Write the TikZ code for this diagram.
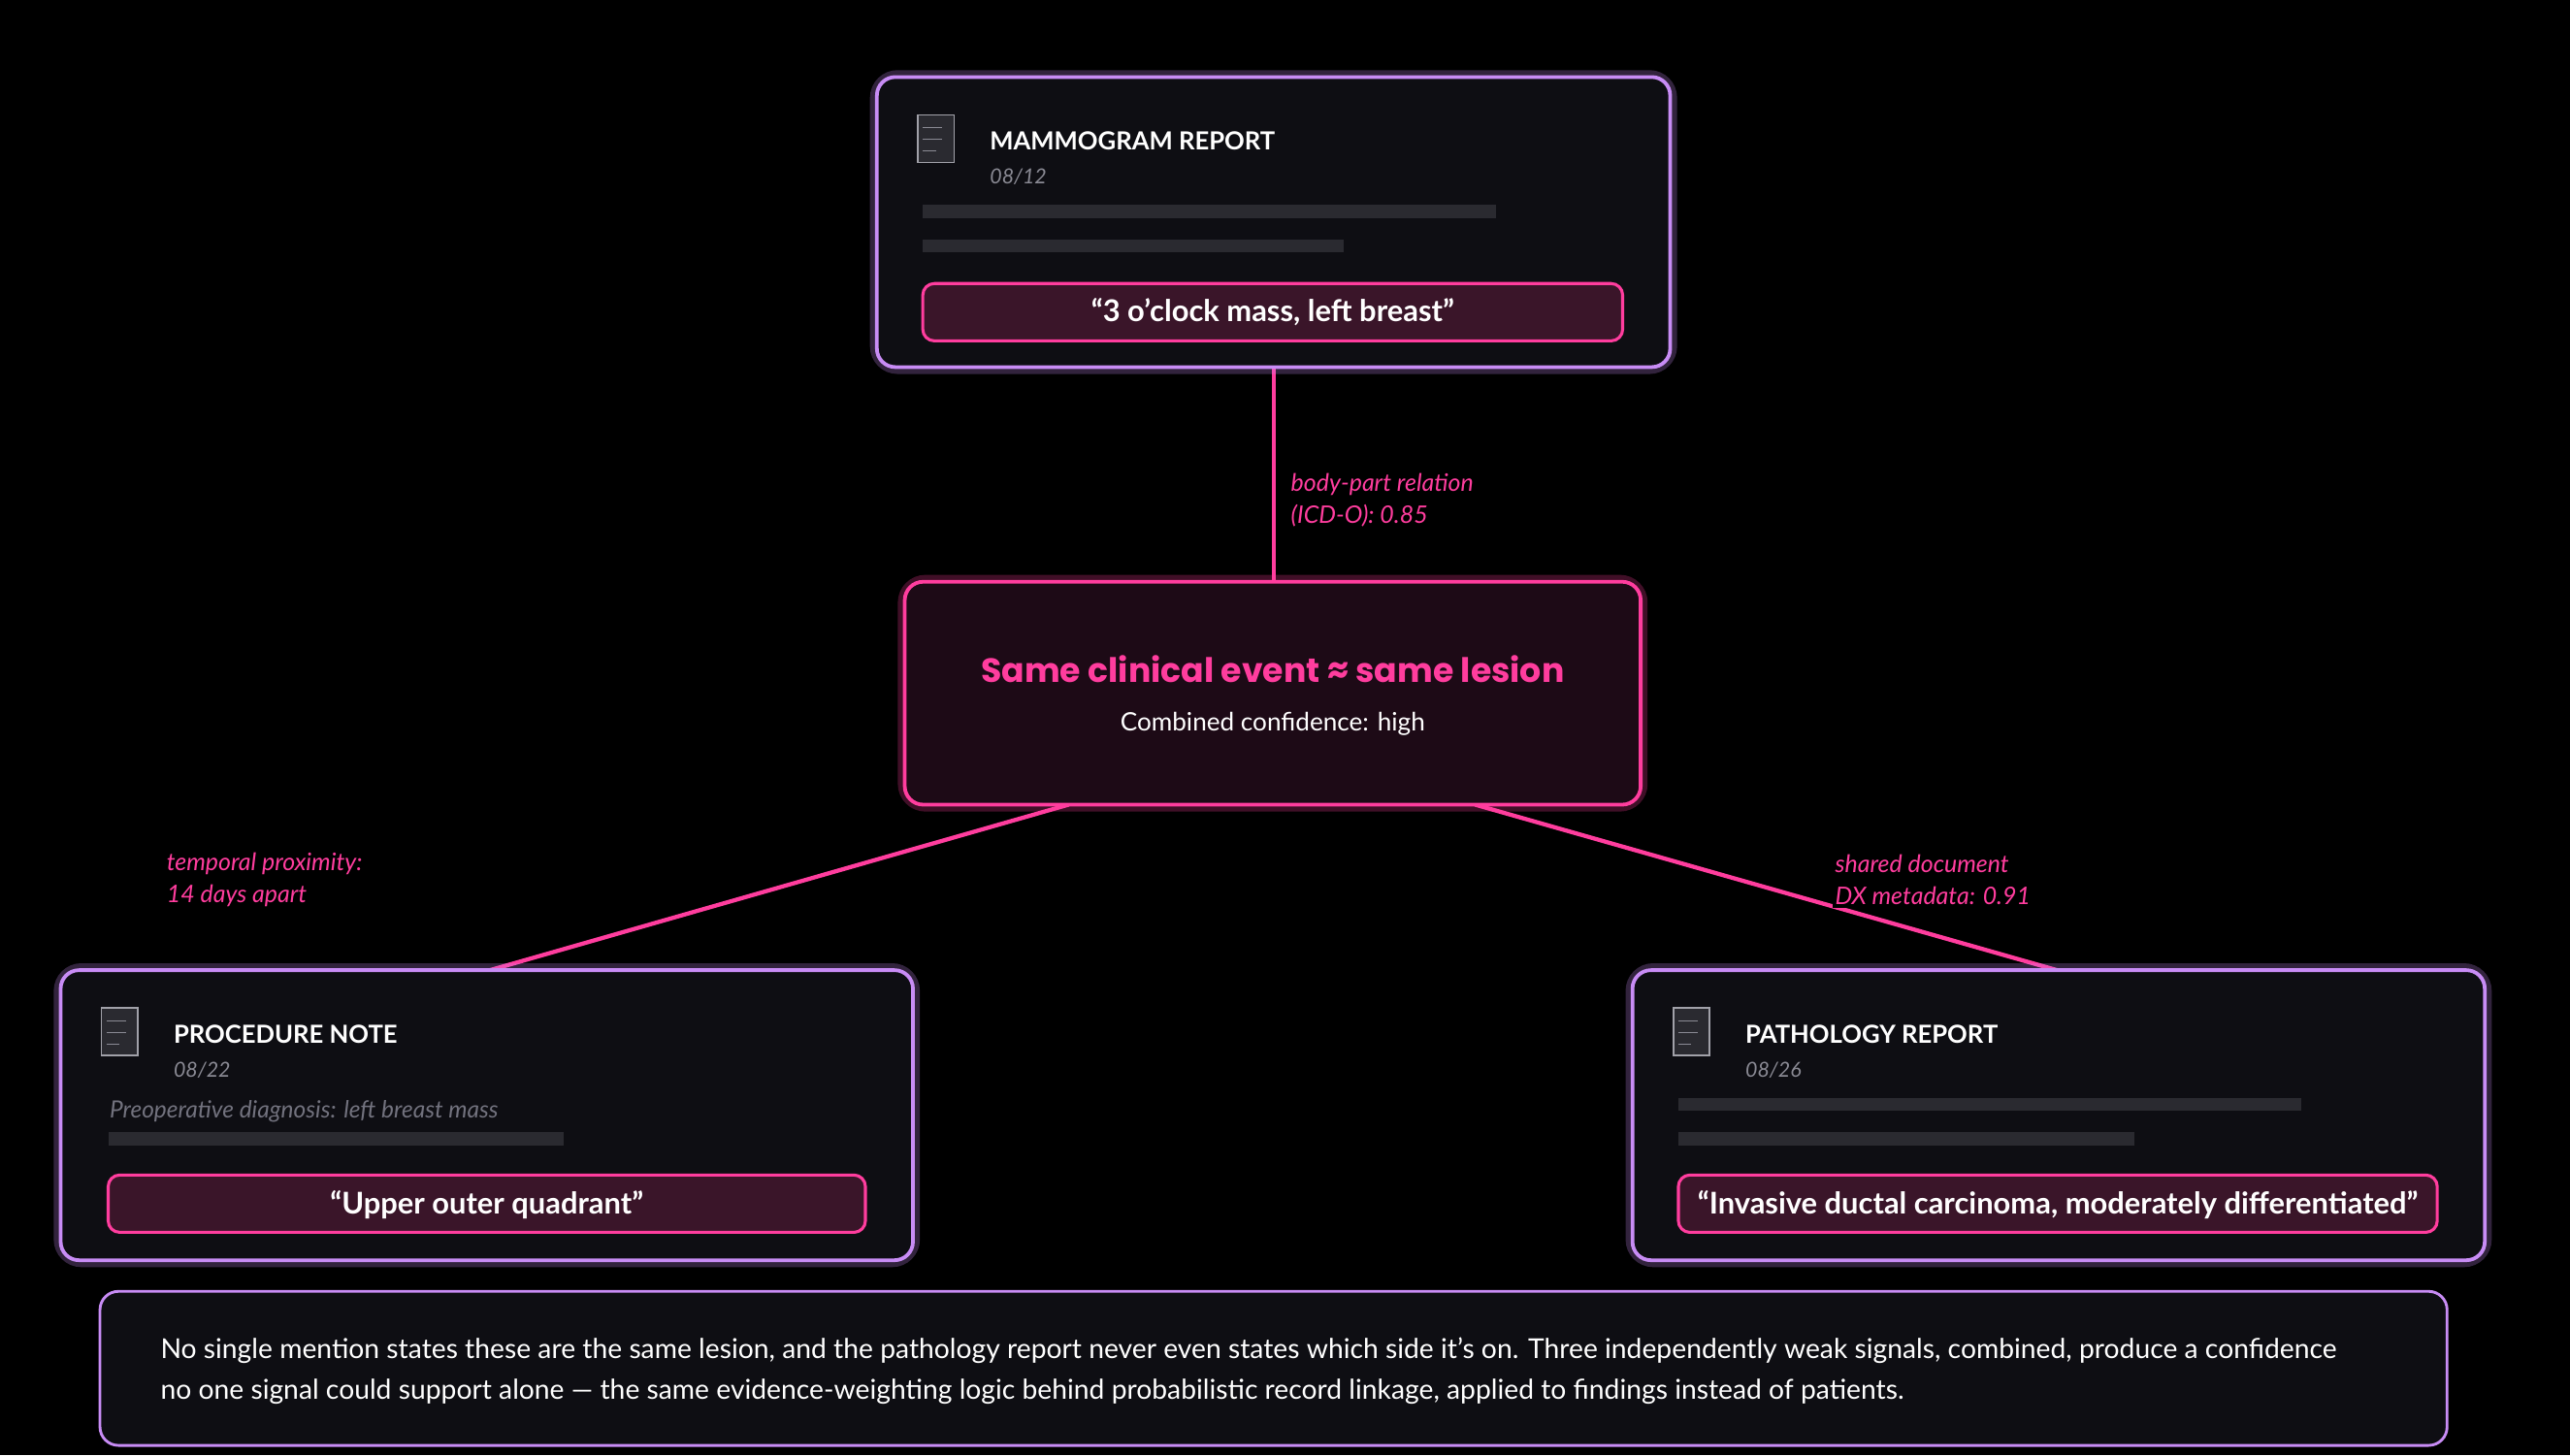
\documentclass[tikz,border=0pt]{standalone}
\usepackage{fontspec}
\setmainfont{Lato}
\newfontfamily\poppins{Poppins}
\usetikzlibrary{positioning,calc}
\definecolor{cardBg}{HTML}{0E0E13}
\definecolor{cardEdge}{HTML}{C88CF5}
\definecolor{hotPink}{HTML}{FF3D9E}
\definecolor{quoteBg}{HTML}{3A1529}
\definecolor{eventBg}{HTML}{1D0A16}
\definecolor{barGray}{HTML}{2A2A30}
\definecolor{dimText}{HTML}{8A8A94}
\tikzset{
    card/.style={draw=cardEdge, line width=1.6pt, fill=cardBg, rounded corners=8pt},
    glow/.style={draw=#1, opacity=0.25, line width=6pt, rounded corners=9pt},
    quote/.style={draw=hotPink, line width=1.3pt, fill=quoteBg, rounded corners=5pt},
    bar/.style={fill=barGray},
    docIcon/.style={draw=dimText!80, fill=barGray, line width=0.6pt},
    cardTitle/.style={anchor=west, text=white!78, font=\bfseries\fontsize{10.8}{13}\selectfont},
    cardDate/.style={anchor=west, text=dimText, font=\itshape\fontsize{9}{11}\selectfont},
    quoteText/.style={text=white, font=\bfseries\fontsize{13}{15}\selectfont},
    linkLabel/.style={anchor=west, align=left, text=hotPink, fill=black, inner sep=1pt,
        font=\itshape\fontsize{10.5}{14}\selectfont},
    link/.style={draw=hotPink, line width=1.8pt}
}
\newcommand{\docglyph}[1]{%
  \draw[docIcon] (#1) rectangle ++(22,29);
  \foreach \dy/\len in {8/12,15/12,22/8}
    \draw[dimText, line width=0.4pt] ($(#1)+(3,\dy)$) -- ++(\len,0);
}
\begin{document}
\begin{tikzpicture}[x=0.025cm, y=-0.025cm]
\fill[black] (0,0) rectangle (1568,888);
\useasboundingbox (0,0) rectangle (1568,888);

% connectors (behind the cards)
\coordinate (topDown) at (777,224);
\coordinate (eventUp) at (777,355);
\coordinate (eventLeft) at (652,491);
\coordinate (eventRight) at (900,491);
\coordinate (procUp) at (299,592);
\coordinate (pathUp) at (1255,592);
\draw[link] (topDown) -- (eventUp);
\draw[link] (eventLeft) -- (procUp);
\draw[link] (eventRight) -- (pathUp);

% mammogram report
\draw[glow=cardEdge] (535,47) rectangle (1019,224);
\draw[card] (535,47) rectangle (1019,224);
\coordinate (mamIcon) at (560,70);
\docglyph{mamIcon}
\node[cardTitle] (mamTitle) at (599,86) {MAMMOGRAM REPORT};
\node[cardDate] (mamDate) at (599,108) {08/12};
\fill[bar] (563,125) rectangle (913,133);
\fill[bar] (563,146) rectangle (820,154);
\draw[quote] (563,173) rectangle (990,208);
\node[quoteText] (mamQuote) at (776.5,190.5) {“3 o\char"27 clock mass, left breast”};

% central event
\draw[glow=hotPink] (552,355) rectangle (1001,491);
\draw[card, draw=hotPink, fill=eventBg] (552,355) rectangle (1001,491);
\node[text=hotPink, font=\poppins\bfseries\fontsize{14.6}{18}\selectfont] (eventTitle) at (776.5,408) {Same clinical event ≈ same lesion};
\node[text=white!88, font=\fontsize{11}{13}\selectfont] (eventConf) at (776.5,442) {Combined confidence: high};

% procedure note
\draw[glow=cardEdge] (37,592) rectangle (557,769);
\draw[card] (37,592) rectangle (557,769);
\coordinate (procIcon) at (62,615);
\docglyph{procIcon}
\node[cardTitle] (procTitle) at (101,631) {PROCEDURE NOTE};
\node[cardDate] (procDate) at (101,653) {08/22};
\node[cardDate, text=dimText!120, font=\itshape\fontsize{10.3}{12}\selectfont] (procDx) at (62,678) {Preoperative diagnosis: left breast mass};
\fill[bar] (66,691) rectangle (344,699);
\draw[quote] (66,717) rectangle (528,752);
\node[quoteText] (procQuote) at (297,735) {“Upper outer quadrant”};

% pathology report
\draw[glow=cardEdge] (996,592) rectangle (1516,769);
\draw[card] (996,592) rectangle (1516,769);
\coordinate (pathIcon) at (1021,615);
\docglyph{pathIcon}
\node[cardTitle] (pathTitle) at (1060,631) {PATHOLOGY REPORT};
\node[cardDate] (pathDate) at (1060,653) {08/26};
\fill[bar] (1024,670) rectangle (1404,678);
\fill[bar] (1024,691) rectangle (1302,699);
\draw[quote] (1024,717) rectangle (1487,752);
\node[quoteText] (pathQuote) at (1255.5,735) {“Invasive ductal carcinoma, moderately differentiated”};

% link labels
\node[linkLabel] (bodyLbl) at (786,305) {body-part relation\\(ICD-O): 0.85};
\node[linkLabel] (timeLbl) at (100,537) {temporal proximity:\\14 days apart};
\node[linkLabel] (docLbl) at (1118,537) {shared document\\DX metadata: 0.91};

% note
\draw[card, line width=1.2pt] (61,788) rectangle (1493,882);
\node[anchor=west, align=left, text=white!88, font=\fontsize{11.9}{17.5}\selectfont] (noteText) at (93,836.5)
  {No single mention states these are the same lesion, and the pathology report never even states which side it\char"27 s on. Three independently weak signals, combined, produce a confidence\\no one signal could support alone — the same evidence-weighting logic behind probabilistic record linkage, applied to findings instead of patients.};
\end{tikzpicture}
\end{document}
